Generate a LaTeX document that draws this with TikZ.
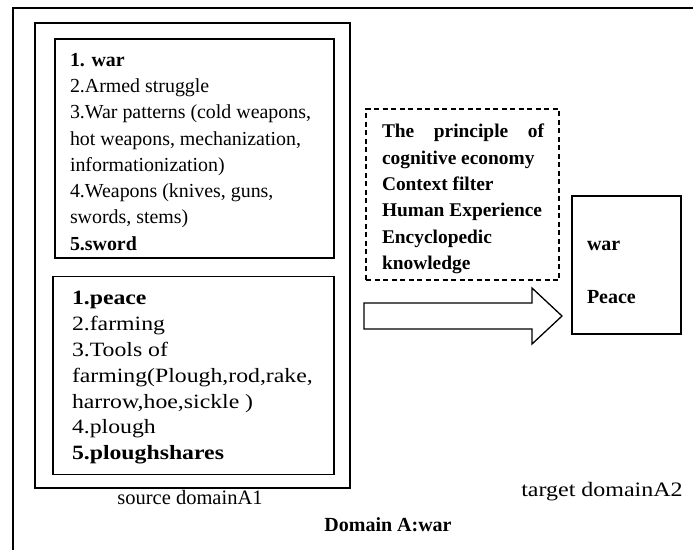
\documentclass[tikz,border=0pt]{standalone}
\usepackage{fontspec}
\setmainfont{Liberation Serif}
\newfontfamily\wideserif[FakeStretch=1.17]{Liberation Serif}
\usetikzlibrary{positioning,calc}

\begin{document}
\begin{tikzpicture}[x=1pt,y=-1pt,
box/.style={draw,line width=1.3pt,inner sep=0pt,outer sep=0pt},
txt/.style={inner sep=0pt,outer sep=0pt,align=left,anchor=north west,
  font=\fontsize{19.9}{26.3}\selectfont},
lbl/.style={inner sep=0pt,font=\fontsize{20.5}{24}\selectfont}]
\useasboundingbox (0,0) rectangle (693,549);
\clip (0,0) rectangle (693,549);
% outer frame, cut by the page
\draw[line width=1.6pt] (13,560) -- (13,8) -- (700,8);
% source domain
\node[box,minimum width=315pt,minimum height=465pt] (src) at (192.5,255.5) {};
\node[box,minimum width=279pt,minimum height=219pt] (war) at (194.5,148.5) {};
\node[box,minimum width=281pt,minimum height=198pt] (peace) at (193.5,375.5) {};
\node[txt] (wartext) at ([xshift=15pt,yshift=-14pt]war.north west)
  {\textbf{1. war}\\ 2.Armed struggle\\ 3.War patterns (cold weapons,\\
   hot weapons, mechanization,\\ informationization)\\
   4.Weapons (knives, guns,\\ swords, stems)\\ \textbf{5.sword}};
\node[txt,font=\wideserif\fontsize{20.3}{25.8}\selectfont] (peacetext)
  at ([xshift=19pt,yshift=-15pt]peace.north west)
  {\textbf{1.peace}\\ 2.farming\\ 3.Tools of\\ farming(Plough,rod,rake,\\
   harrow,hoe,sickle )\\ 4.plough\\ \textbf{5.ploughshares}};
% filter
\node[box,dashed,dash pattern=on 5pt off 3.5pt,minimum width=193pt,minimum height=171pt]
  (filter) at (462.5,194.5) {};
\node[txt,font=\bfseries\fontsize{19.4}{26.4}\selectfont] (filtertext)
  at ([xshift=16pt,yshift=-15pt]filter.north west)
  {\makebox[162pt][s]{The principle of}\\ cognitive economy\\ Context filter\\
   Human Experience\\ Encyclopedic\\ knowledge};
% target domain
\node[box,minimum width=109pt,minimum height=138pt] (tgt) at (626.5,265) {};
\node[txt,anchor=base west,font=\bfseries\fontsize{20}{24}\selectfont] (tgtwar)
  at ([xshift=15pt]tgt.west |- 0,250) {war};
\node[txt,anchor=base west,font=\bfseries\fontsize{20}{24}\selectfont] (tgtpeace)
  at ([xshift=15pt]tgt.west |- 0,303) {Peace};
% mapping arrow
\draw[line width=1.3pt,line join=miter] (364,303) -- (532,303) -- (532,288) -- (562,316)
  -- (532,344) -- (532,329) -- (364,329) -- cycle;
% captions
\node[lbl] (srclbl) at (190,497) {source domainA1};
\node[lbl,font=\wideserif\fontsize{20.5}{24}\selectfont] (tgtlbl) at (602,492) {target domainA2};
\node[lbl,font=\bfseries\fontsize{20}{24}\selectfont] (title) at (388,525) {Domain A:war};
\end{tikzpicture}
\end{document}
